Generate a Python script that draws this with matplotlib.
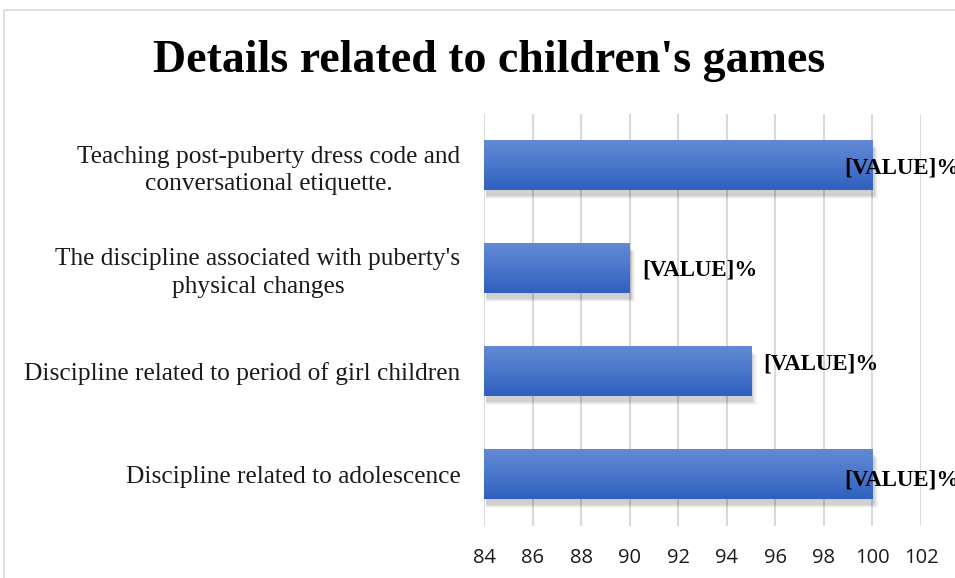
import matplotlib.pyplot as plt
import matplotlib.transforms as mtransforms
from matplotlib.patches import Rectangle
from matplotlib.colors import LinearSegmentedColormap
import numpy as np

# data (bottom to top, as drawn)
categories = ["Discipline related to adolescence",
              "Discipline related to period of girl children",
              "The discipline associated with puberty's\nphysical changes",
              "Teaching post-puberty dress code and\nconversational etiquette."]
values = [100, 95, 90, 100]
label_text = "[VALUE]%"
xticks = list(range(84, 103, 2))

fig = plt.figure(figsize=(9.55, 5.78), dpi=100)
ax = fig.add_axes([484 / 955, 1 - 525.5 / 578, 437 / 955, 412 / 578])

# chart area border
fig.patches.append(Rectangle((4 / 955, -0.1), 1.2, (578 - 10) / 578 + 0.1,
                             transform=fig.transFigure, fill=False,
                             edgecolor="#d9d9d9", linewidth=1.2, zorder=0))

bar_h = 0.485
ypos = np.arange(len(values))
xmin, xmax = 84, 102

# soft shadow under the bars
for y, v in zip(ypos, values):
    for k, a in enumerate([0.03, 0.04, 0.05, 0.07]):
        off = mtransforms.offset_copy(ax.transData, fig=fig, x=1.5, y=-3 - k * 0.5, units="points")
        grow = 0.015 * (3 - k)
        ax.add_patch(Rectangle((xmin, y - bar_h / 2 - grow), v - xmin + 0.05 * (3 - k), bar_h,
                               transform=off, facecolor="black", alpha=a, linewidth=0, zorder=2))

# gradient bars
grad = np.linspace(0, 1, 100).reshape(-1, 1)
cmap = LinearSegmentedColormap.from_list("bar", ["#6289d4", "#4a77cc", "#2f60bf"])
for y, v in zip(ypos, values):
    ax.imshow(grad, extent=[xmin, v, y - bar_h / 2, y + bar_h / 2], origin="upper",
              aspect="auto", cmap=cmap, zorder=3)

ax.set_xlim(xmin, xmax)
ax.set_ylim(-0.5, len(values) - 0.5)
ax.set_xticks(xticks)
ax.set_xticklabels([str(t) for t in xticks], fontsize=14.5, family="Open Sans", color="#1a1a1a")
ax.set_yticks(ypos)
ax.set_yticklabels(categories, fontsize=18.3, family="Liberation Serif", color="#1a1a1a",
                   linespacing=1.35)
for t in ax.get_yticklabels():
    t.set_multialignment("center")
ax.tick_params(axis="y", length=0, pad=17)
ax.tick_params(axis="x", length=0, pad=16)
ax.grid(axis="x", color="#d9d9d9", linewidth=1.5, zorder=0)
ax.set_axisbelow(True)
for s in ax.spines.values():
    s.set_visible(False)

# data labels
label_dy = [-0.06, 0.07, -0.02, -0.03]
for y, v, dy in zip(ypos, values, label_dy):
    if v >= 99:
        x0 = v - 1.15
    else:
        x0 = v + 0.5
    ax.text(x0, y + dy, label_text, ha="left", va="center", fontsize=16.5,
            fontweight="bold", family="Liberation Serif", zorder=5, clip_on=False)

fig.text(489 / 955, 1 - 61 / 578, "Details related to children's games", ha="center", va="center",
         fontsize=33, fontweight="bold", family="Liberation Serif")

fig.savefig("out.png", dpi=100)
